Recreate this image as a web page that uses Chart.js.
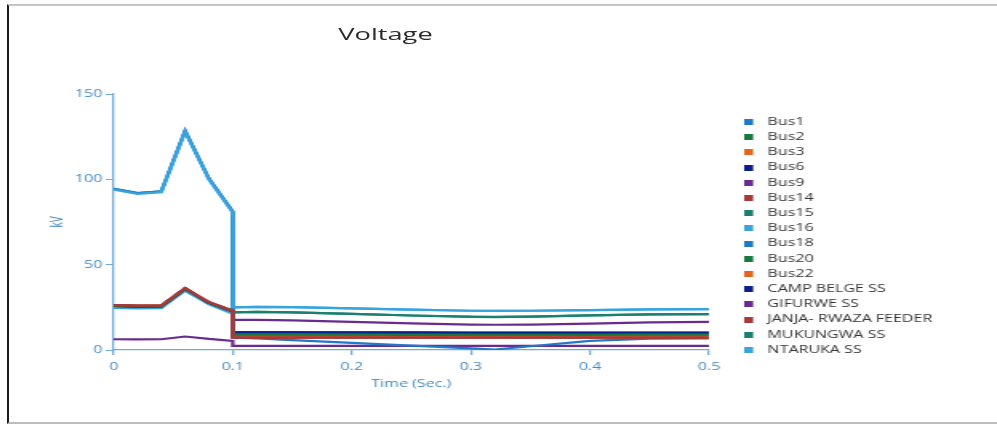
<!DOCTYPE html>
<html>
<head>
<meta charset="utf-8">
<title>Voltage</title>
<script src="https://cdn.jsdelivr.net/npm/chart.js@4.4.1/dist/chart.umd.min.js"></script>
<style>
  html, body { margin: 0; padding: 0; background: #ffffff; overflow: hidden; }
  body { width: 997px; height: 428px; position: relative; }
  #frame {
    position: absolute; left: 7px; top: 4px; width: 990px; height: 420px;
    border-left: 2px solid #1a1a1a; border-top: 2px solid #c6c6c6; border-bottom: 2px solid #bdbdbd;
    box-sizing: border-box; pointer-events: none;
  }
  #wrap {
    position: absolute; left: 0; top: 0; width: 623px; height: 428px;
    transform: scaleX(1.6003); transform-origin: 0 0;
  }
  #title {
    position: absolute; left: 190.9px; top: 24.7px; width: 100px; text-align: center;
    font: 17px/17px "Open Sans", sans-serif; color: #2b2b2b; white-space: nowrap;
  }
  canvas { position: absolute; left: 0; top: 0; }
</style>
</head>
<body>
<div id="frame"></div>
<div id="wrap">
  <div id="title">Voltage</div>
  <canvas id="chart" width="623" height="428"></canvas>
</div>
<script>
// Sample times (s); 0.1 appears twice for the step at fault clearing
const timeSec = [0, 0.02, 0.04, 0.06, 0.08, 0.1, 0.1, 0.12, 0.15, 0.2, 0.25, 0.3, 0.32, 0.35, 0.4, 0.45, 0.5];

const seriesNames = ['Bus1', 'Bus2', 'Bus3', 'Bus6', 'Bus9', 'Bus14', 'Bus15', 'Bus16', 'Bus18', 'Bus20', 'Bus22',
  'CAMP BELGE SS', 'GIFURWE SS', 'JANJA- RWAZA FEEDER', 'MUKUNGWA SS', 'NTARUKA SS'];

// Bus voltages, kV
const bus1      = [94.5, 92.0, 93.0, 128.5, 100.5, 81.2, 7.4, 6.8, 5.8, 4.2, 2.6, 1.0, 0.3, 2.2, 5.3, 6.7, 6.8];
const bus2      = [26.0, 25.7, 25.8, 36.0, 27.8, 22.8, 9.0, 9.0, 9.0, 9.0, 8.9, 8.9, 8.9, 8.9, 8.9, 9.0, 9.0];
const bus3      = [26.1, 25.8, 25.9, 36.1, 27.9, 22.9, 7.9, 7.9, 7.9, 7.8, 7.8, 7.8, 7.8, 7.8, 7.8, 7.8, 7.8];
const bus6      = [25.9, 25.6, 25.7, 35.9, 27.7, 22.7, 10.3, 10.3, 10.3, 10.2, 10.2, 10.1, 10.1, 10.1, 10.1, 10.1, 10.1];
const bus9      = [25.8, 25.5, 25.6, 35.8, 27.6, 22.6, 17.6, 17.6, 17.3, 16.5, 15.6, 14.9, 14.8, 14.9, 15.5, 16.2, 16.5];
const bus14     = [26.3, 26.0, 26.1, 36.3, 28.0, 23.0, 7.3, 7.3, 7.3, 7.2, 7.2, 7.2, 7.2, 7.2, 7.2, 7.2, 7.2];
const bus15     = [25.9, 25.6, 25.7, 35.9, 27.7, 22.7, 22.0, 22.3, 22.0, 21.2, 20.2, 19.4, 19.3, 19.6, 20.3, 20.9, 21.0];
const bus16     = [94.0, 91.5, 92.5, 127.8, 99.9, 80.6, 25.0, 25.3, 25.1, 24.4, 23.6, 23.0, 22.9, 23.0, 23.4, 23.8, 23.9];
const bus18     = [94.4, 91.9, 92.9, 128.3, 100.3, 81.0, 8.3, 8.3, 8.3, 8.2, 8.2, 8.2, 8.2, 8.2, 8.2, 8.2, 8.2];
const bus20     = [26.0, 25.7, 25.8, 36.0, 27.8, 22.8, 9.1, 9.1, 9.1, 9.0, 9.0, 9.0, 9.0, 9.0, 9.0, 9.0, 9.0];
const bus22     = [26.1, 25.8, 25.9, 36.1, 27.9, 22.9, 7.8, 7.8, 7.8, 7.8, 7.7, 7.7, 7.7, 7.7, 7.7, 7.8, 7.8];
const campBelge = [25.9, 25.6, 25.7, 35.9, 27.7, 22.7, 10.4, 10.4, 10.4, 10.3, 10.3, 10.2, 10.2, 10.2, 10.2, 10.2, 10.2];
const gifurwe   = [6.3, 6.2, 6.3, 7.9, 6.5, 5.3, 2.4, 2.4, 2.4, 2.4, 2.4, 2.4, 2.4, 2.4, 2.4, 2.4, 2.4];
const janja     = [26.3, 26.0, 26.1, 36.3, 28.0, 23.0, 7.3, 7.3, 7.3, 7.2, 7.2, 7.2, 7.2, 7.2, 7.2, 7.2, 7.2];
const mukungwa  = [25.9, 25.6, 25.7, 35.9, 27.7, 22.7, 22.1, 22.3, 22.0, 21.2, 20.2, 19.5, 19.4, 19.6, 20.3, 20.9, 21.0];
const ntaruka   = [24.6, 24.4, 24.5, 34.8, 26.8, 21.2, 25.0, 25.3, 25.1, 24.4, 23.6, 23.0, 22.9, 23.0, 23.4, 23.8, 23.9];

const seriesValues = [bus1, bus2, bus3, bus6, bus9, bus14, bus15, bus16, bus18, bus20, bus22,
  campBelge, gifurwe, janja, mukungwa, ntaruka];

const seriesColors = ['#1f78c8', '#157a3c', '#e5651e', '#0c1d8c', '#6a2a8f', '#a63a3a', '#1c806f', '#36a5de',
  '#1f78c8', '#157a3c', '#e5651e', '#0c1d8c', '#6a2a8f', '#a63a3a', '#1c806f', '#36a5de'];

// Drawing layer per series (lower values are painted on top)
const drawLayer = [0, 0, 0, 0, 0, -1, 0, -1, 0, 0, 0, 0, 0, -1, 0, 0];

const yTicks = [0, 50, 100, 150];
const xTicks = [0, 0.1, 0.2, 0.3, 0.4, 0.5];

// Legend swatch: small filled box on the left of a wider transparent cell
function swatch(color) {
  const c = document.createElement('canvas');
  c.width = 11; c.height = 6;
  const g = c.getContext('2d');
  g.fillStyle = color;
  g.fillRect(0, 0, 6, 6);
  return c;
}

const FONT = '"Open Sans", sans-serif';
const AXIS_BLUE = '#73abd8';
const LABEL_BLUE = '#3f89c6';

// Width of the longest legend label, for placing the legend column
const mctx = document.createElement('canvas').getContext('2d');
mctx.font = '10px ' + FONT;
const longest = Math.max(...seriesNames.map(n => mctx.measureText(n).width));
const legendPad = 5.2;
const legendWidth = legendPad + 9 + 5 + longest + 10;
const legendLeft = 460.4;
const rightPad = 623 - legendLeft - legendWidth;

const datasets = seriesNames.map((name, i) => ({
  label: name,
  data: timeSec.map((t, k) => ({ x: t, y: seriesValues[i][k] })),
  borderColor: seriesColors[i],
  backgroundColor: seriesColors[i],
  borderWidth: 2.2,
  pointRadius: 0,
  pointHoverRadius: 0,
  pointStyle: swatch(seriesColors[i]),
  tension: 0,
  fill: false,
  order: drawLayer[i],
  yAxisID: 'y'
}));

new Chart(document.getElementById('chart'), {
  type: 'line',
  data: { datasets },
  options: {
    responsive: false,
    animation: false,
    devicePixelRatio: 1,
    layout: { padding: { top: 94, bottom: 38, left: 26, right: rightPad } },
    plugins: {
      title: { display: false },
      tooltip: { enabled: false },
      legend: {
        position: 'right',
        align: 'start',
        maxWidth: 300,
        title: { display: true, text: '', font: { size: 10, family: FONT }, padding: { top: 0, bottom: 5.8 } },
        labels: {
          usePointStyle: true,
          pointStyleWidth: 9,
          padding: legendPad,
          color: '#333333',
          font: { size: 10, family: FONT },
          sort: (a, b) => a.datasetIndex - b.datasetIndex
        }
      }
    },
    scales: {
      x: {
        type: 'linear',
        min: 0, max: 0.5,
        afterBuildTicks: s => { s.ticks = xTicks.map(v => ({ value: v })); },
        ticks: { color: LABEL_BLUE, padding: 6, font: { size: 10, family: FONT }, maxRotation: 0 },
        grid: { display: true, drawOnChartArea: false, drawTicks: true, tickLength: 5, color: AXIS_BLUE, lineWidth: 1.3 },
        border: { display: true, color: AXIS_BLUE, width: 1.3 },
        title: { display: true, text: 'Time (Sec.)', color: LABEL_BLUE, font: { size: 10, family: FONT }, padding: { top: -1, bottom: 0 } }
      },
      y: {
        type: 'linear',
        position: 'left',
        min: 0, max: 150,
        afterBuildTicks: s => { s.ticks = yTicks.map(v => ({ value: v })); },
        afterFit: s => { s.width = 45; },
        ticks: { color: LABEL_BLUE, padding: 2, font: { size: 10, family: FONT } },
        grid: { display: true, drawOnChartArea: false, drawTicks: true, tickLength: 5, color: AXIS_BLUE, lineWidth: 1 },
        border: { display: true, color: AXIS_BLUE, width: 1.3 },
        title: { display: true, text: 'kV', color: LABEL_BLUE, font: { size: 10, family: FONT }, padding: { top: 4, bottom: 4 } }
      },
      gap: {
        type: 'linear',
        position: 'right',
        display: true,
        afterFit: s => { s.width = 17.3; },
        ticks: { display: false },
        grid: { display: false },
        border: { display: false },
        title: { display: false }
      }
    }
  }
});
</script>
</body>
</html>
